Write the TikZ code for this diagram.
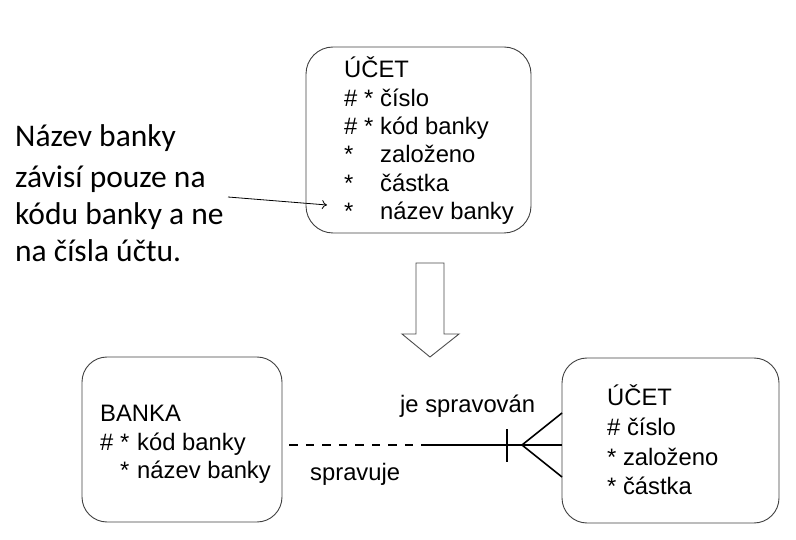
\documentclass[tikz,border=0pt]{standalone}
\usepackage{fontspec}
\setmainfont{Liberation Sans}
\newfontfamily\calibri{Carlito}
\usetikzlibrary{arrows.meta}
\begin{document}
\begin{tikzpicture}[x=1pt,y=-1pt,
  ebox/.style={draw=black!75,line width=0.9pt,rounded corners=27pt,inner sep=0pt},
  txt/.style={anchor=base west,inner sep=0pt,font=\fontsize{23.8}{28}\selectfont},
  note/.style={anchor=base west,inner sep=0pt,font=\calibri\fontsize{31.5}{38}\selectfont},
  rel/.style={line width=1.6pt,black}]
\useasboundingbox (0,0) rectangle (796,540);
% top box
\node[ebox,minimum width=225pt,minimum height=186pt] (top) at (418.5,140) {};
\node[txt] (t1) at (344,78) {ÚČET};
\node[txt] (t2a) at (344,107) {\#};
\node[txt] (t2b) at (364,107) {*};
\node[txt] (t2c) at (380,107) {číslo};
\node[txt] (t3a) at (344,135) {\#};
\node[txt] (t3b) at (364,135) {*};
\node[txt] (t3c) at (380,135) {kód banky};
\node[txt] (t4a) at (344,163) {*};
\node[txt] (t4c) at (380,163) {založeno};
\node[txt] (t5a) at (344,192) {*};
\node[txt] (t5c) at (380,192) {částka};
\node[txt] (t6a) at (344,220) {*};
\node[txt] (t6c) at (380,220) {název banky};
% note
\node[note] (n1) at (15,147) {Název banky};
\node[note] (n2) at (15,188) {závisí pouze na};
\node[note] (n3) at (15,225) {kódu banky a ne};
\node[note] (n4) at (15,262) {na čísla účtu.};
\coordinate (ns) at (228,197);
\coordinate (ne) at (327,205);
\draw[line width=0.8pt,-{To[length=5pt,width=9pt]}] (ns) -- (ne);
% block arrow
\draw[draw=black!70,line width=0.9pt,fill=white] (416,263) -- (444,263) -- (444,334) -- (459,334) -- (430,357) -- (402,334) -- (416,334) -- cycle;
% bottom left box
\node[ebox,minimum width=200pt,minimum height=165pt,rounded corners=25pt] (banka) at (182,439.5) {};
\node[txt] (b1) at (100,421) {BANKA};
\node[txt] (b2a) at (100,450) {\#};
\node[txt] (b2b) at (120,450) {*};
\node[txt] (b2c) at (137,450) {kód banky};
\node[txt] (b3b) at (120,478) {*};
\node[txt] (b3c) at (137,478) {název banky};
% bottom right box
\node[ebox,minimum width=217pt,minimum height=165pt,rounded corners=25pt] (ucet) at (670.5,440.5) {};
\node[txt] (u1) at (607,405) {ÚČET};
\node[txt] (u2) at (607,435) {\# číslo};
\node[txt] (u3) at (607,465) {* založeno};
\node[txt] (u4) at (607,494) {* částka};
% relationship
\coordinate (mid) at (424,445);
\coordinate (crow) at (522,445);
\coordinate (bt) at (507,429);
\coordinate (bb) at (507,462);
\coordinate (cu) at (562,413);
\coordinate (cl) at (562,477);
\draw[rel,dash pattern=on 8.5pt off 8pt] ([xshift=7pt]banka.east |- mid) -- (mid);
\draw[rel] (mid) -- (ucet.west |- mid);
\draw[rel] (bt) -- (bb);
\draw[rel] (cu) -- (crow) -- (cl);
\node[txt] (l1) at (400,412) {je spravován};
\node[txt] (l2) at (310,480) {spravuje};
\end{tikzpicture}
\end{document}
